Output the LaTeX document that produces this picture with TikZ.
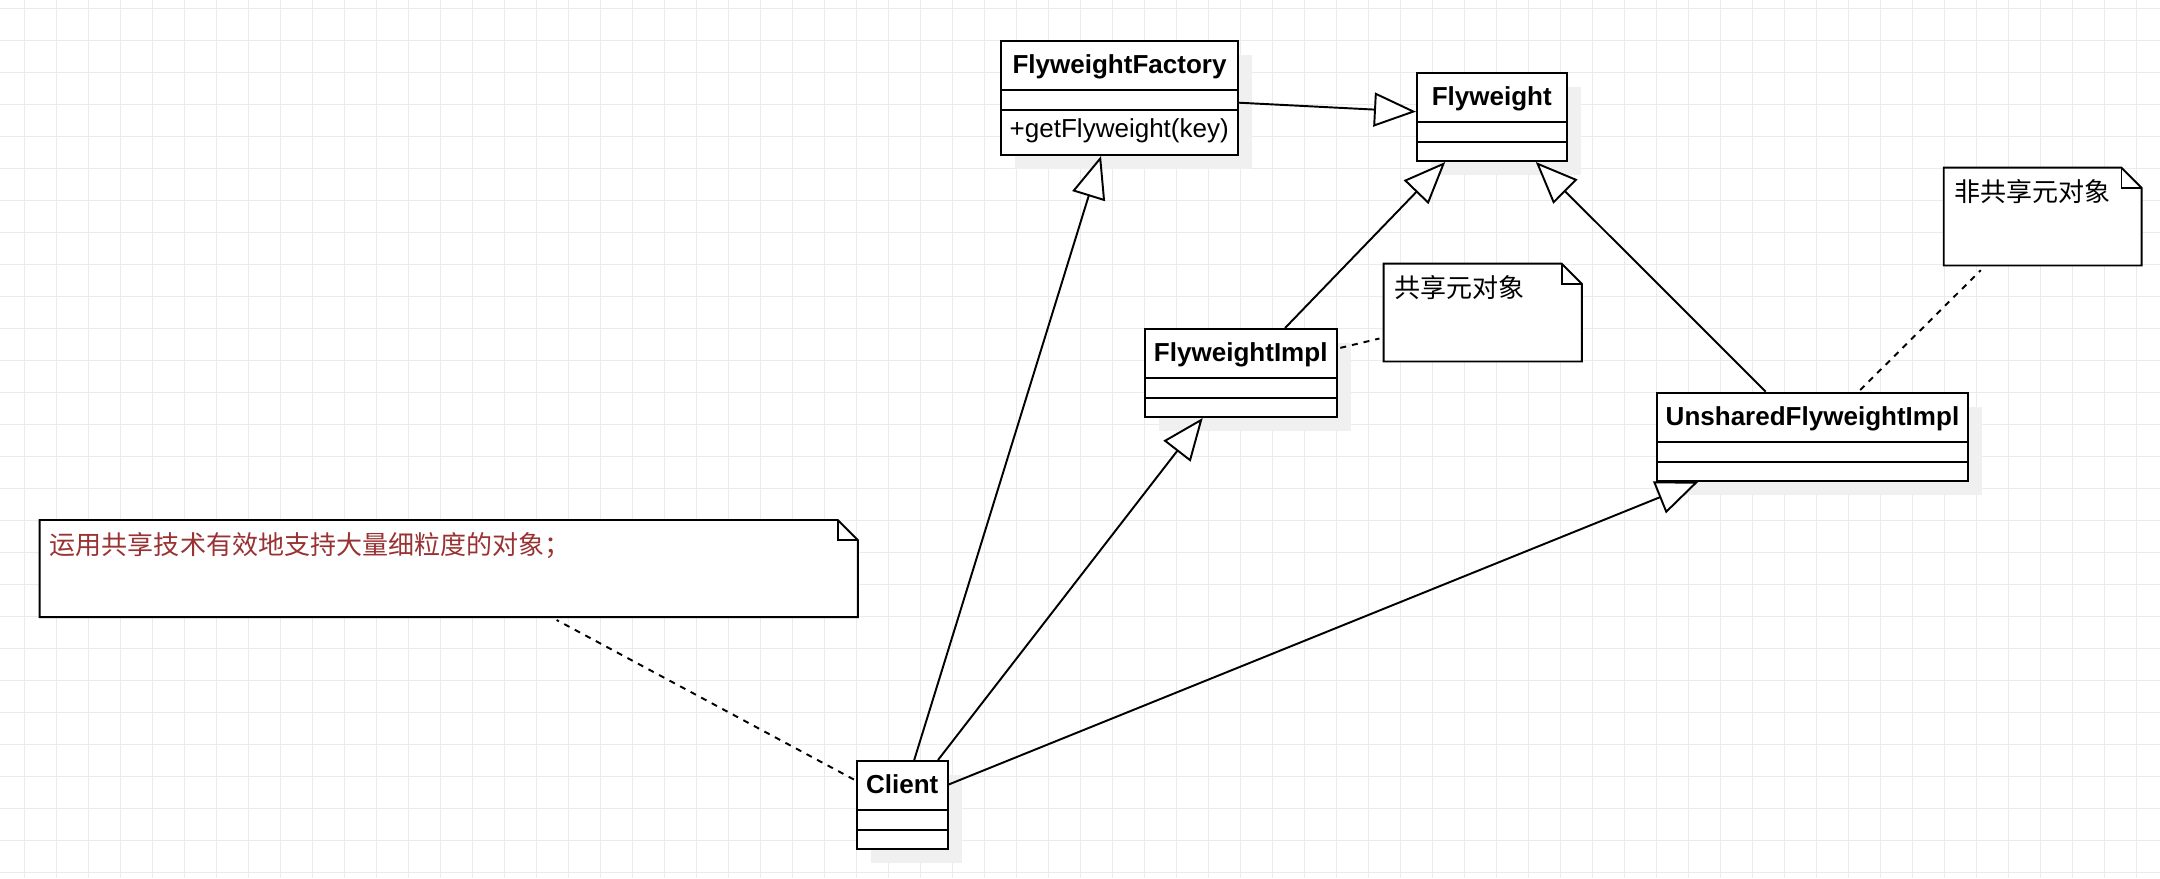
\documentclass[tikz,border=0pt]{standalone}
\usepackage{fontspec}
\setmainfont{Liberation Sans}
\newfontfamily\cjk{Noto Sans CJK SC}
\usetikzlibrary{arrows.meta,shadows,calc}

\definecolor{gridgray}{RGB}{235,235,235}
\definecolor{shadowgray}{RGB}{240,240,240}
\definecolor{notered}{RGB}{153,51,51}

\begin{document}
\begin{tikzpicture}[
    x=0.01cm, y=-0.01cm,
    font=\fontsize{7.4}{9}\selectfont,
    gridline/.style={draw=gridgray, line width=0.3pt},
    cls/.style={draw=black, line width=0.55pt, fill=white, anchor=north west, inner sep=0pt,
        drop shadow={shadow xshift=0.14cm, shadow yshift=-0.14cm, fill=shadowgray, opacity=1}},
    cls-name/.style={font=\fontsize{7.4}{9}\selectfont\bfseries, anchor=base, inner sep=0pt},
    cls-op/.style={anchor=base west, inner sep=0pt},
    note/.style={anchor=north west, inner sep=0pt},
    note-text/.style={font=\fontsize{7.4}{9}\selectfont\cjk, anchor=base west, inner sep=0pt},
    generalize/.style={line width=0.55pt, -{Triangle[fill=white, length=0.42cm, width=0.34cm]}},
    anchorline/.style={line width=0.55pt, dash pattern=on 1.7pt off 1.7pt}
]

    % Background
    \fill[white] (0,0) rectangle (2160,878);
    \useasboundingbox (0,0) rectangle (2160,878);

    % Grid
    \foreach \gx in {24.3,56.3,...,2160} {
        \draw[gridline] (\gx,0) -- (\gx,878);
    }
    \foreach \gy in {8.3,40.3,...,878} {
        \draw[gridline] (0,\gy) -- (2160,\gy);
    }

    % Classes
    \node[cls, minimum width=2.37cm, minimum height=1.14cm] (factory) at (1000,40) {};
    \node[cls, minimum width=1.495cm, minimum height=0.88cm] (fly) at (1416,72) {};
    \node[cls, minimum width=1.92cm, minimum height=0.88cm] (impl) at (1143.7,328) {};
    \node[cls, minimum width=3.112cm, minimum height=0.88cm] (unshared) at (1655.8,391.7) {};
    \node[cls, minimum width=0.91cm, minimum height=0.88cm] (client) at (855.7,760) {};

    \foreach \c in {factory,fly,impl,unshared,client} {
        \draw[line width=0.55pt] ([yshift=-0.5cm]\c.north west) -- ([yshift=-0.5cm]\c.north east)
            ([yshift=-0.7cm]\c.north west) -- ([yshift=-0.7cm]\c.north east);
    }

    \node[cls-name] (factory-name) at ([yshift=-0.333cm]factory.north) {FlyweightFactory};
    \node[cls-op] (factory-op) at ([xshift=0.09cm,yshift=-0.97cm]factory.north west) {+getFlyweight(key)};
    \node[cls-name] (fly-name) at ([yshift=-0.333cm]fly.north) {Flyweight};
    \node[cls-name] (impl-name) at ([yshift=-0.333cm]impl.north) {FlyweightImpl};
    \node[cls-name] (unshared-name) at ([yshift=-0.333cm]unshared.north) {UnsharedFlyweightImpl};
    \node[cls-name] (client-name) at ([yshift=-0.333cm]client.north) {Client};

    % Notes
    \node[note, minimum width=1.966cm, minimum height=0.963cm] (sharednote) at (1383.7,263.7) {};
    \node[note, minimum width=1.963cm, minimum height=0.963cm] (unsharednote) at (1943.7,167.7) {};
    \node[note, minimum width=8.163cm, minimum height=0.957cm] (intentnote) at (39.7,520) {};

    \foreach \n in {sharednote,unsharednote,intentnote} {
        \filldraw[fill=white, line width=0.55pt] (\n.north west) -- ([xshift=-0.2cm]\n.north east)
            -- ([yshift=-0.2cm]\n.north east) -- (\n.south east) -- (\n.south west) -- cycle;
        \draw[line width=0.55pt] ([xshift=-0.2cm]\n.north east) -- ([xshift=-0.2cm,yshift=-0.2cm]\n.north east)
            -- ([yshift=-0.2cm]\n.north east);
    }

    \node[note-text] (sharednote-text) at ([xshift=0.1cm,yshift=-0.335cm]sharednote.north west) {共享元对象};
    \node[note-text] (unsharednote-text) at ([xshift=0.1cm,yshift=-0.34cm]unsharednote.north west) {非共享元对象};
    \node[note-text, text=notered] (intentnote-text) at ([xshift=0.095cm,yshift=-0.345cm]intentnote.north west) {运用共享技术有效地支持大量细粒度的对象；};

    % Generalizations
    \draw[generalize] ([yshift=-0.047cm]factory.east) -- ([yshift=0.053cm]fly.west);
    \draw[generalize] ([xshift=0.12cm]client.north) -- ([xshift=-0.185cm]factory.south);
    \draw[generalize] ([xshift=0.358cm]client.north) -- ([xshift=-0.38cm]impl.south);
    \draw[generalize] ([yshift=0.205cm]client.east) -- ([xshift=-1.14cm]unshared.south);
    \draw[generalize] ([xshift=0.443cm]impl.north) -- ([xshift=-0.465cm]fly.south);
    \draw[generalize] ([xshift=-0.467cm]unshared.north) -- ([xshift=0.44cm]fly.south);

    % Note links
    \draw[anchorline, shorten <=0.026cm, shorten >=0.044cm] ([yshift=0.245cm]impl.east) -- ([yshift=-0.249cm]sharednote.west);
    \draw[anchorline, shorten <=0.024cm, shorten >=0.067cm] ([xshift=0.46cm]unshared.north) -- ([xshift=-0.57cm]unsharednote.south);
    \draw[anchorline, shorten <=0.02cm, shorten >=0.06cm] ([yshift=0.245cm]client.west) -- ([xshift=1.025cm]intentnote.south);

\end{tikzpicture}
\end{document}
